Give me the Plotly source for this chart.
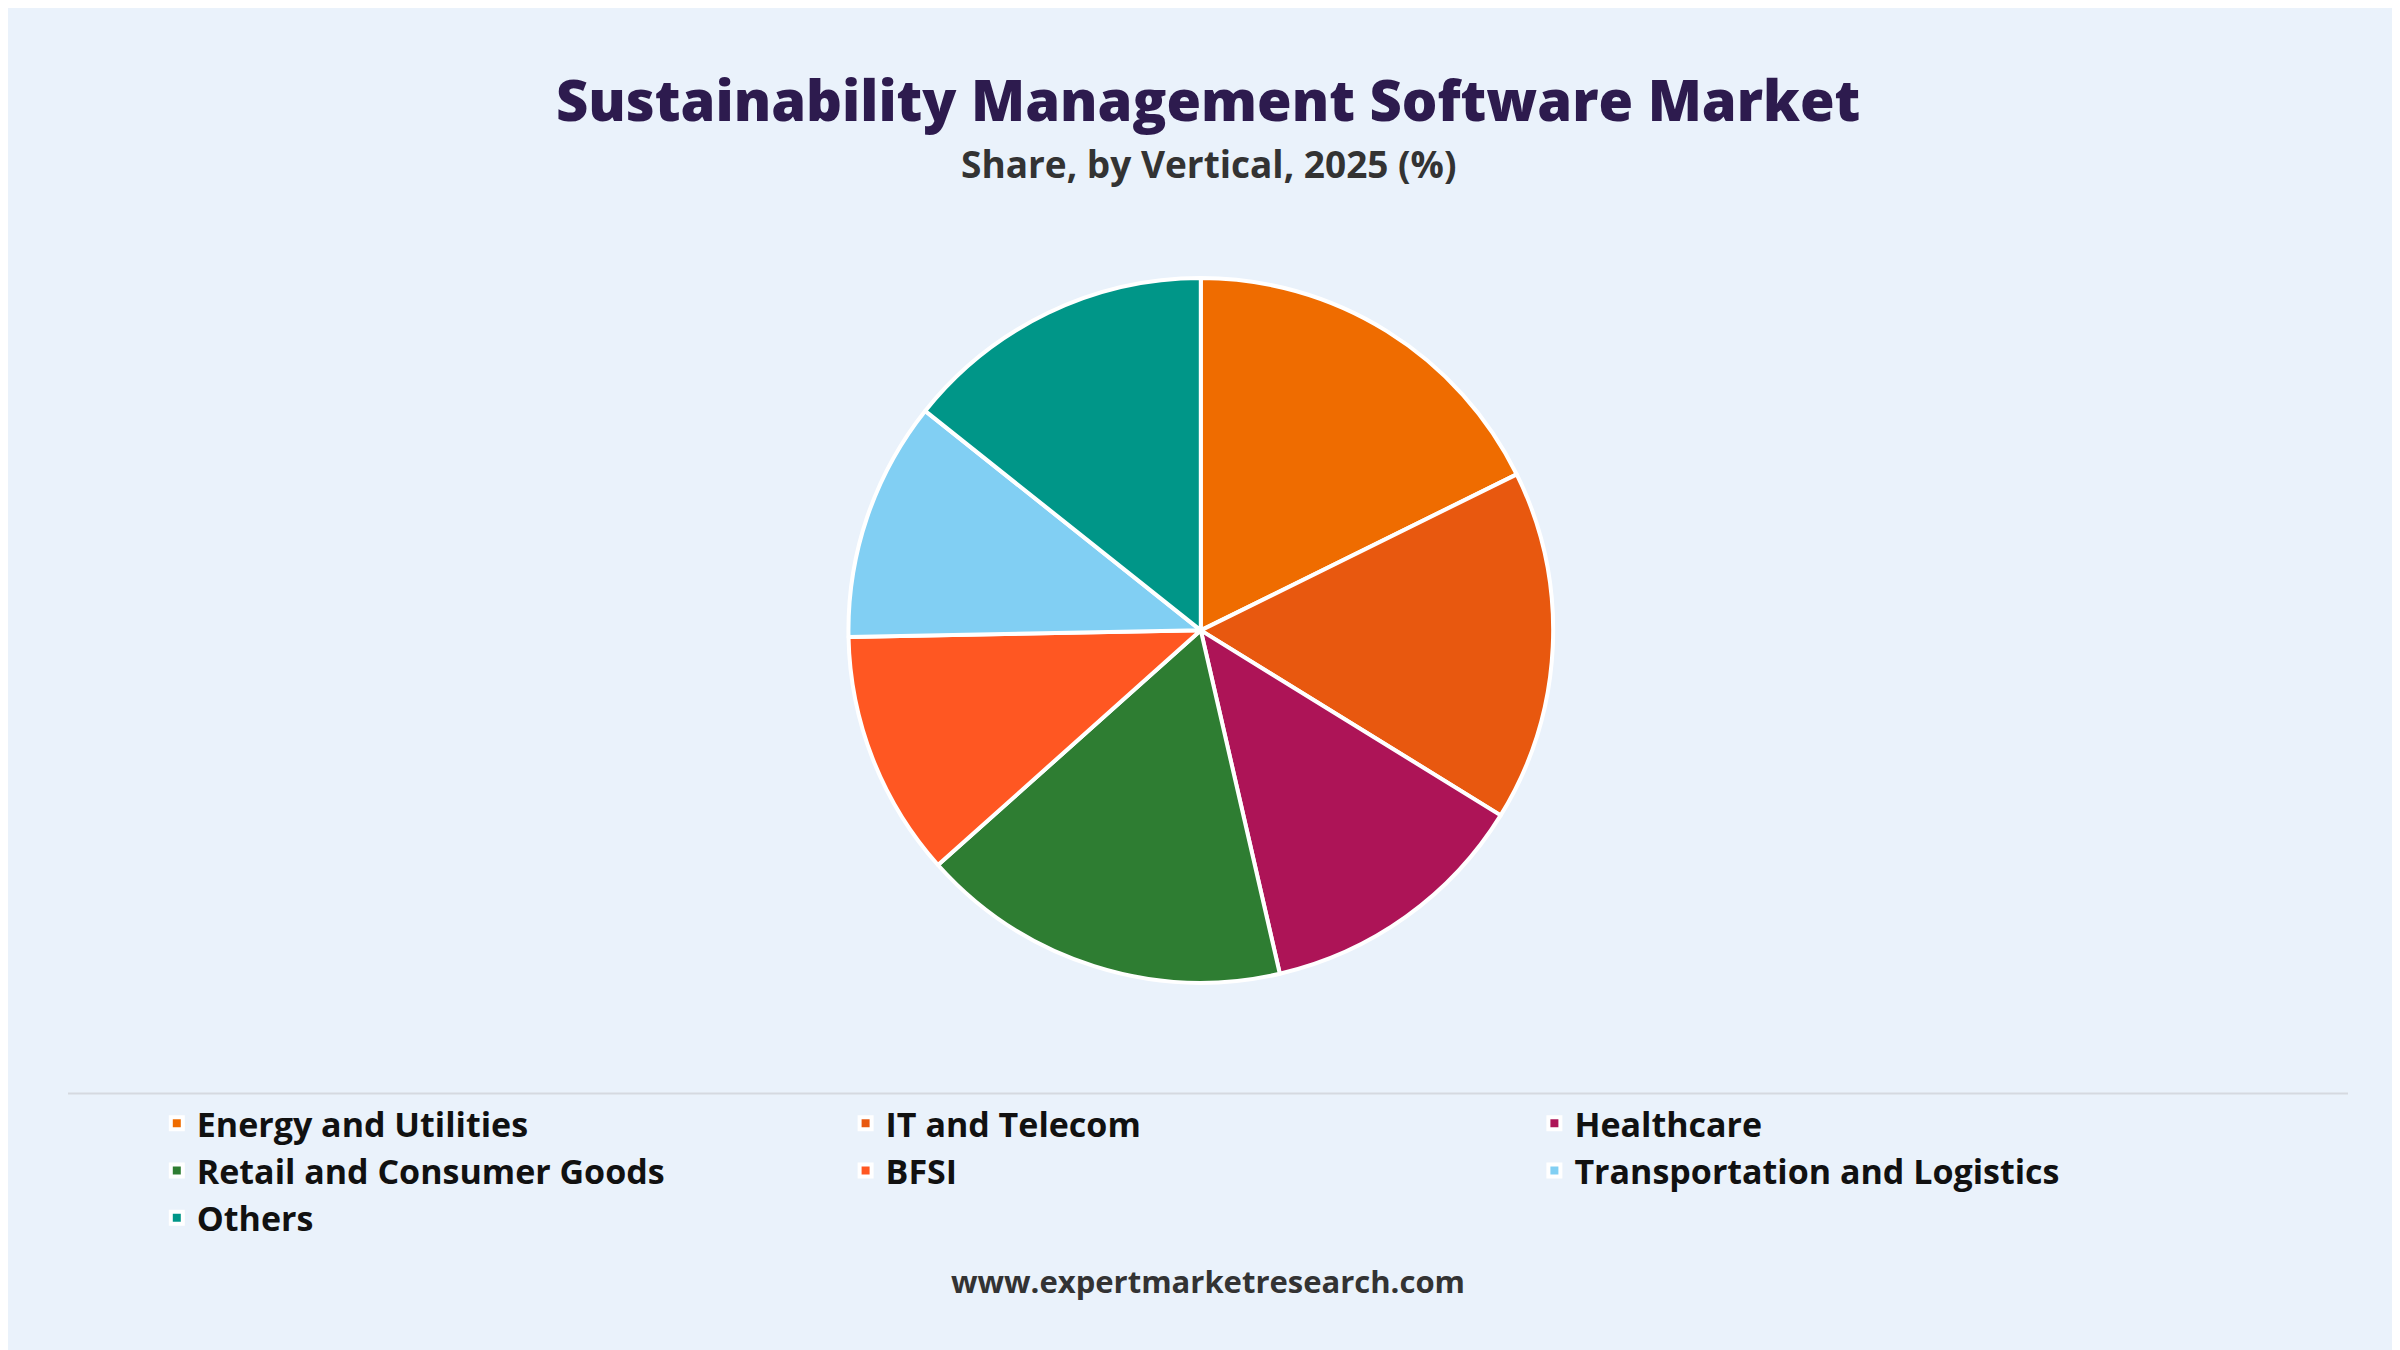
import plotly.graph_objects as go

# Data
labels = ['Energy and Utilities', 'IT and Telecom', 'Healthcare',
          'Retail and Consumer Goods', 'BFSI', 'Transportation and Logistics', 'Others']
shares = [17.7, 16.1, 12.6, 17.0, 11.3, 11.0, 14.3]
colors = ['#EF6C00', '#E8580F', '#AD1457', '#2E7D32', '#FF5722', '#81CFF3', '#009688']

fig = go.Figure()
fig.add_trace(go.Pie(
    labels = labels, values = shares,
    sort = False, direction = 'clockwise', rotation = 0,
    marker = dict(colors = colors, line = dict(color = 'white', width = 4)),
    textinfo = 'none', hoverinfo = 'label+percent',
    domain = dict(x = [0, 0.994], y = [0.278, 0.8])
))

fig.update_layout(
    width = 2400, height = 1350,
    paper_bgcolor = '#EAF2FB', plot_bgcolor = '#EAF2FB',
    margin = dict(l = 0, r = 0, t = 0, b = 0),
    font = dict(family = 'Open Sans', color = '#111111'),
    showlegend = True,
    legend = dict(
        orientation = 'h', x = 0.062, y = 0.195, xanchor = 'left', yanchor = 'top',
        entrywidth = 0.287, entrywidthmode = 'fraction',
        font = dict(size = 34, weight = 700, color = '#111111'),
        bgcolor = 'rgba(0,0,0,0)', tracegroupgap = 0
    ),
    shapes = [dict(type = 'line', xref = 'paper', yref = 'paper',
                   x0 = 0.025, x1 = 0.975, y0 = 0.196, y1 = 0.196,
                   line = dict(color = '#D5D9E0', width = 2))],
    annotations = [
        dict(text = 'Sustainability Management Software Market', x = 0.5, y = 0.962,
             xref = 'paper', yref = 'paper', showarrow = False,
             font = dict(size = 56, weight = 800, color = '#2D1B4E')),
        dict(text = 'Share, by Vertical, 2025 (%)', x = 0.5, y = 0.905,
             xref = 'paper', yref = 'paper', showarrow = False,
             font = dict(size = 37, weight = 700, color = '#333333')),
        dict(text = 'www.expertmarketresearch.com', x = 0.5, y = 0.04,
             xref = 'paper', yref = 'paper', showarrow = False,
             font = dict(size = 31, weight = 700, color = '#333333')),
    ]
)

fig.write_html('out.html')
